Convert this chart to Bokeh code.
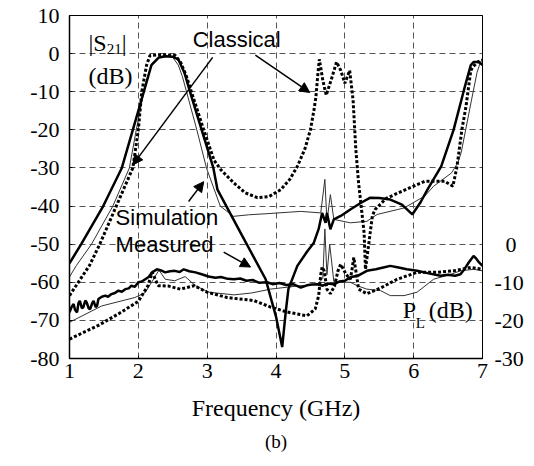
from bokeh.plotting import figure
from bokeh.models import Range1d, LinearAxis, FixedTicker, Arrow, NormalHead, Label, Title
from bokeh.embed import file_html
from bokeh.resources import INLINE

# ---------------- data ----------------
# |S21| measured (thick solid), dB
s21_meas_f = [1.0, 1.17, 1.49, 1.76, 1.92, 2.08, 2.19, 2.3, 2.4, 2.5, 2.58, 2.67, 2.75, 2.92, 3.09,
              3.15, 3.5, 3.85, 4.0, 4.09, 4.14, 4.18, 4.31, 4.45, 4.55, 4.62, 4.67, 4.72, 4.74, 4.79,
              4.84, 4.94, 5.08, 5.23, 5.37, 5.5, 5.66, 5.83, 5.98, 6.1, 6.2, 6.4, 6.58, 6.73, 6.83,
              6.87, 6.95, 7.0]
s21_meas_db = [-55, -50, -40, -30, -20, -10, -3, -1, -0.7, -0.8, -1.5, -5, -10, -20, -30,
               -35.7, -47.5, -59.2, -69, -77, -68, -61.8, -55.7, -52, -49.6, -46, -41.8, -44.4, -41.8, -46.1,
               -43.5, -42.6, -40.9, -39.2, -37.8, -37.9, -38.3, -39.6, -42.2, -39, -35.7, -29.6, -20, -9.6, -3,
               -2.2, -2.2, -3]

# |S21| simulation (thin solid), dB
s21_sim_f = [1.0, 1.1, 1.32, 1.63, 1.87, 1.97, 2.1, 2.2, 2.3, 2.4, 2.5, 2.58, 2.64, 2.7, 2.85, 2.99,
             3.19, 3.38, 3.6, 3.87, 4.2, 4.36, 4.65, 4.71, 4.74, 4.79, 4.84, 5.08, 5.32, 5.47, 5.77,
             5.86, 6.16, 6.29, 6.55, 6.64, 6.69, 6.84, 6.92, 6.97, 7.0]
s21_sim_db = [-58.6, -55.6, -50, -40, -30, -20, -8, -2.5, -0.8, -0.6, -1, -3, -6, -10, -20, -30,
              -40, -42.7, -42.3, -42, -41.6, -41.4, -41.8, -33, -44, -37, -43.5, -44.4, -44, -42.2, -40.9,
              -40.5, -37.4, -34.8, -31.3, -28.7, -26, -12.2, -5, -2.2, -1.7]

# |S21| classical (dotted), dB
s21_cls_f = [1.0, 1.29, 1.44, 1.68, 1.92, 2.0, 2.05, 2.12, 2.17, 2.3, 2.4, 2.54, 2.62, 2.7, 2.77,
             2.95, 3.1, 3.2, 3.39, 3.55, 3.73, 3.9, 4.07, 4.2, 4.31, 4.42, 4.5, 4.55, 4.58, 4.61, 4.63,
             4.68, 4.73, 4.8, 4.88, 4.94, 5.0, 5.07, 5.12, 5.16, 5.2, 5.28, 5.3, 5.35, 5.4, 5.44, 5.6,
             5.77, 6.16, 6.45, 6.57, 6.63, 6.7, 6.76, 6.83, 6.86, 6.93, 7.0]
s21_cls_db = [-63.5, -55.6, -50, -40, -30, -20, -10, -3, -0.5, -0.3, -0.3, -0.5, -2.5, -6, -10,
              -20, -28, -30.5, -34, -36.5, -37.8, -37.5, -35.7, -33, -29.6, -25, -20, -15, -11.3, -5, -1.5,
              -7, -10.9, -7, -2.2, -4.4, -7.8, -4.4, -12.2, -25.2, -34, -47, -56.6, -49.6, -42.6, -40.9, -38,
              -36.6, -33.5, -33.5, -34.8, -29.6, -20, -13.9, -4.4, -3.5, -2.2, -1.7]

# P_L measured (thick solid), dB on the right-hand scale
pl_meas_f = [1.0, 1.03, 1.06, 1.08, 1.11, 1.13, 1.15, 1.18, 1.2, 1.23, 1.25, 1.28, 1.3, 1.33, 1.35,
             1.38, 1.4, 1.42, 1.47, 1.52, 1.56, 1.61, 1.66, 1.71, 1.76, 1.81, 1.86, 1.9, 1.95, 2.0,
             2.05, 2.1, 2.15, 2.2, 2.27, 2.33, 2.39, 2.46, 2.53, 2.6, 2.66, 2.74, 2.83, 2.92, 3.02,
             3.12, 3.2, 3.3, 3.39, 3.48, 3.57, 3.66, 3.75, 3.87, 3.95, 4.05, 4.15, 4.25, 4.36, 4.45,
             4.52, 4.6, 4.68, 4.75, 4.84, 4.92, 5.0, 5.08, 5.2, 5.32, 5.45, 5.56, 5.66, 5.78, 5.9,
             6.05, 6.2, 6.39, 6.5, 6.6, 6.68, 6.74, 6.8, 6.87, 6.91, 6.95, 7.0]
pl_meas_db = [-17.9, -16.5, -15.7, -17.2, -17.9, -15.5, -14.9, -16.8, -16.6, -14.8, -15.3, -16.9, -17.0, -15.5, -14.9,
              -16.5, -16.2, -14.4, -13.8, -13.5, -13.8, -13.1, -12.8, -12.2, -12.5, -11.8, -11.6, -10.9, -11.2, -10.0,
              -9.8, -9.2, -8.6, -7.4, -6.6, -6.9, -7.4, -7.1, -7.0, -7.3, -6.6, -7.1, -7.4, -7.9, -8.5,
              -8.8, -8.6, -9.1, -9.2, -9.0, -9.6, -9.4, -10.1, -10.0, -10.5, -10.2, -10.7, -10.5, -11.4, -10.8,
              -10.6, -10.5, -10.9, -10.3, -10.5, -9.8, -9.6, -8.7, -8.2, -7.0, -6.6, -6.1, -5.7, -6.1, -6.6,
              -7.0, -7.6, -8.3, -8.0, -8.3, -7.9, -6.5, -4.8, -3.1, -3.8, -4.8, -5.7]

# P_L simulation (thin solid), dB on the right-hand scale
pl_sim_f = [1.0, 1.47, 1.95, 2.1, 2.22, 2.3, 2.39, 2.53, 2.68, 2.83, 3.02, 3.39, 3.65, 3.92, 4.3,
            4.6, 4.68, 4.71, 4.74, 4.78, 4.84, 4.94, 5.08, 5.18, 5.32, 5.52, 5.66, 5.86, 6.05, 6.29,
            6.54, 6.68, 6.87, 7.0]
pl_sim_db = [-20.5, -16.2, -14.0, -12.7, -9.2, -6.8, -9.2, -9.6, -8.5, -10.9, -12.6, -13.3, -12.8, -11.8, -11.0,
             -10.5, -9.0, 4.0, -8.0, 0.0, -9.8, -10.0, -10.0, -10.9, -11.8, -12.2, -13.5, -13.5, -12.6, -9.2,
             -7.9, -7.0, -6.6, -7.0]

# P_L classical (dotted), dB on the right-hand scale
pl_cls_f = [1.0, 1.42, 1.71, 2.0, 2.14, 2.2, 2.29, 2.44, 2.61, 2.81, 3.0, 3.29, 3.68, 3.92, 4.16,
            4.45, 4.57, 4.62, 4.65, 4.67, 4.7, 4.74, 4.79, 4.85, 4.9, 4.94, 4.98, 5.02, 5.08, 5.11,
            5.13, 5.16, 5.2, 5.32, 5.52, 5.76, 6.05, 6.34, 6.58, 6.83, 7.0]
pl_cls_db = [-24.9, -21.3, -18.3, -15.0, -10.9, -7.4, -10.9, -11.0, -11.8, -10.9, -12.6, -14.0, -14.8, -16.5, -17.8,
             -18.8, -17.0, -13.5, -8.0, -6.0, -7.0, -11.8, -13.0, -11.0, -7.0, -5.3, -6.6, -8.0, -9.2, -6.0,
             -3.5, -7.0, -11.8, -13.0, -11.5, -9.2, -7.4, -7.4, -7.0, -6.1, -6.6]

x_ticks = [1, 2, 3, 4, 5, 6, 7]
y_ticks = [-80, -70, -60, -50, -40, -30, -20, -10, 0, 10]
pl_ticks = [0, -10, -20, -30]

SERIF = "Liberation Serif"
SANS = "Liberation Sans"

p = figure(width=526, height=458, x_range=Range1d(1, 7), y_range=Range1d(-80, 10),
           output_backend="svg", toolbar_location=None,
           min_border_left=69, min_border_right=44, min_border_top=15, min_border_bottom=100)
p.extra_y_ranges = {"pl": Range1d(-30, 60)}
p.title.visible = False
p.background_fill_color = "white"
p.border_fill_color = "white"
p.outline_line_color = "black"
p.outline_line_width = 1

# axes
p.xaxis.ticker = FixedTicker(ticks=x_ticks)
p.yaxis.ticker = FixedTicker(ticks=y_ticks)
p.yaxis.major_label_overrides = {t: str(t) for t in y_ticks}

rax = LinearAxis(y_range_name="pl", ticker=FixedTicker(ticks=pl_ticks))
# the single-digit "0" sits centred over the other labels in the original
rax.major_label_overrides = {t: ("\u2007" + str(t) if t == 0 else str(t)) for t in pl_ticks}
p.add_layout(rax, "right")

for ax in (p.xaxis[0], p.yaxis[0], rax):
    ax.major_label_text_font = SERIF
    ax.major_label_text_font_size = "22px"
    ax.major_label_text_color = "black"
    ax.major_tick_in = 3
    ax.major_tick_out = 0
    ax.major_tick_line_color = "black"
    ax.minor_tick_line_color = None
    ax.axis_line_color = "black"
    ax.axis_line_width = 1.5
rax.major_tick_line_color = None
rax.axis_line_width = 1
p.yaxis[0].major_label_standoff = 10
p.xaxis[0].major_label_standoff = 5
rax.major_label_standoff = 12
p.xaxis.axis_label = "Frequency (GHz)"
p.xaxis.axis_label_text_font = SERIF
p.xaxis.axis_label_text_font_size = "24px"
p.xaxis.axis_label_text_font_style = "normal"
p.xaxis.axis_label_text_color = "black"
p.xaxis.axis_label_standoff = 14

p.add_layout(Title(text="(b)", align="center", text_font=SERIF, text_font_size="19px",
                   text_font_style="normal", text_color="black", standoff=10), "below")

# grid
p.xgrid.ticker = FixedTicker(ticks=x_ticks[1:-1])
p.ygrid.ticker = FixedTicker(ticks=y_ticks[1:-1])
for g in (p.xgrid[0], p.ygrid[0]):
    g.grid_line_color = "#555555"
    g.grid_line_dash = "6 4"
    g.grid_line_width = 1

# curves
p.line(s21_sim_f, s21_sim_db, line_color="#333333", line_width=1)
p.line(pl_sim_f, pl_sim_db, line_color="#333333", line_width=1, y_range_name="pl")
p.line(s21_cls_f, s21_cls_db, line_color="black", line_width=3, line_dash="3 2")
p.line(pl_cls_f, pl_cls_db, line_color="black", line_width=3, line_dash="3 2", y_range_name="pl")
p.line(s21_meas_f, s21_meas_db, line_color="black", line_width=2.5)
p.line(pl_meas_f, pl_meas_db, line_color="black", line_width=2.5, y_range_name="pl")

# annotation arrows
def arrow(x0, y0, x1, y1):
    p.add_layout(Arrow(end=NormalHead(size=10, fill_color="black", line_color="black"),
                       x_start=x0, y_start=y0, x_end=x1, y_end=y1,
                       line_color="black", line_width=1.5))

arrow(3.08, -1.0, 1.92, -29.2)
arrow(3.70, -0.4, 4.49, -10.2)
arrow(2.73, -38.8, 2.95, -33.6)
arrow(3.24, -52.1, 3.63, -56.0)

def label(x, y, text, font, size, baseline="middle"):
    p.add_layout(Label(x=x, y=y, text=text, text_font=font, text_font_size=size,
                       text_baseline=baseline, text_align="left", text_color="black"))

label(2.79, 3.7, "Classical", SANS, "22px")
label(1.67, -43.0, "Simulation", SANS, "22px")
label(1.67, -50.0, "Measured", SANS, "22px")
label(1.275, 2.8, "|S", SERIF, "24px")
label(1.54, 1.3, "21", SERIF, "15px")
label(1.76, 2.8, "|", SERIF, "24px")
label(1.275, -5.8, "(dB)", SERIF, "24px")
label(5.84, -67.4, "P", SERIF, "24px")
label(6.03, -70.6, "L", SERIF, "15px")
label(6.22, -67.4, "(dB)", SERIF, "24px")

open("out.html", "w").write(file_html(p, INLINE))
